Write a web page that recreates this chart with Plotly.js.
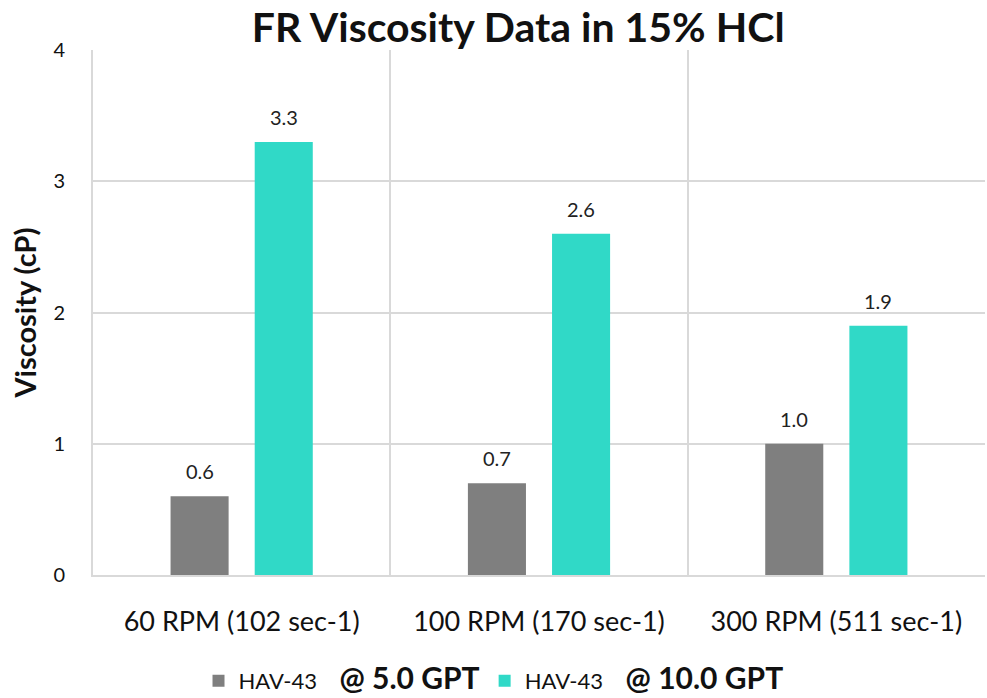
<!DOCTYPE html>
<html>
<head>
<meta charset="utf-8">
<script src="https://cdn.plot.ly/plotly-3.0.1.min.js"></script>
<style>html,body{margin:0;padding:0;background:#fff;}#chart{width:987px;height:698px;}</style>
</head>
<body>
<div id="chart"></div>
<script>
var categories = ["60 RPM (102 sec-1)", "100 RPM (170 sec-1)", "300 RPM (511 sec-1)"];
var seriesNames = ["HAV-43", "HAV-43"];
var seriesSuffix = ["@ 5.0 GPT", "@ 10.0 GPT"];
var values5 = [0.6, 0.7, 1.0];
var values10 = [3.3, 2.6, 1.9];
var yTicks = [0, 1, 2, 3, 4];

var FONT = "Lato, 'Noto Sans', sans-serif";
function legendName(i){
  return "<span style='font-size:22px'>" + seriesNames[i] + "</span>&nbsp;&nbsp;&nbsp;&nbsp;<b><span style='font-size:30px'>" + seriesSuffix[i] + "</span></b>";
}
var traces = [
  {type:"bar", x:categories, y:values5, name:legendName(0), marker:{color:"#7f7f7f"}},
  {type:"bar", x:categories, y:values10, name:legendName(1), marker:{color:"#30d9c7"}},
  {type:"scatter", x:[0], y:[0], xaxis:"x2", mode:"markers", marker:{opacity:0}, showlegend:false, hoverinfo:"skip"}
];
var annotations = [];
[values5, values10].forEach(function(vals, s){
  vals.forEach(function(v, i){
    annotations.push({x:categories[i], y:v, xref:"x", yref:"y", text:v.toFixed(1), showarrow:false,
      xshift: s === 0 ? -42 : 42, yshift:25, font:{size:20, color:"#222", family:FONT}});
  });
});
var layout = {
  width:987, height:698,
  margin:{l:93, r:2, t:50, b:123, autoexpand:false},
  paper_bgcolor:"#fff", plot_bgcolor:"#fff",
  font:{family:FONT, size:18, color:"#111"},
  title:{text:"<b>FR Viscosity Data in 15% HCl</b>", font:{size:41, color:"#111"}, x:0.525, xanchor:"center", y:0.96, yanchor:"middle"},
  barmode:"group", bargap:0.434, bargroupgap:0.31,
  annotations:annotations,
  xaxis:{type:"category", showgrid:false, showline:true, linecolor:"#d9d9d9", linewidth:2,
    tickfont:{size:27, color:"#111"}, ticks:"", ticklabelstandoff:22, fixedrange:true},
  xaxis2:{overlaying:"x", range:[-0.5,2.5], tick0:0.5, dtick:1, showgrid:true, gridcolor:"#d9d9d9", gridwidth:2,
    showticklabels:false, ticks:"", zeroline:false, showline:false},
  yaxis:{range:[0,4], tickvals:yTicks, showgrid:true, gridcolor:"#d9d9d9", gridwidth:2, zeroline:false,
    showline:true, linecolor:"#d9d9d9", linewidth:2, ticks:"", tickfont:{size:20, color:"#111"}, ticklabelstandoff:22,
    title:{text:"<b>Viscosity (cP)</b>", font:{size:29, color:"#111"}, standoff:8}},
  legend:{orientation:"h", x:0.449, xanchor:"center", y:-0.162, yanchor:"top", font:{size:22, color:"#111"}, itemwidth:30},
  showlegend:true
};
Plotly.newPlot("chart", traces, layout, {displayModeBar:false, staticPlot:true});
</script>
</body>
</html>
